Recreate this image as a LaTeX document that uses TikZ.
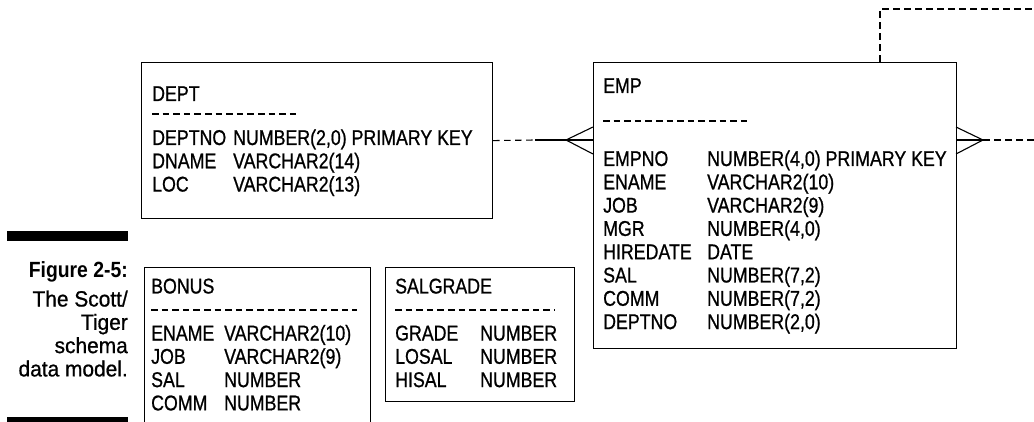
\documentclass[tikz,border=0pt]{standalone}
\usepackage{fontspec}
\setmainfont{Liberation Sans}[FakeStretch=0.83, FakeBold=0.8]
\newfontfamily\capfont{Liberation Sans}[FakeStretch=0.95, FakeBold=0.8]
\newfontfamily\capbf{Liberation Sans}[FakeStretch=0.88]
\usepackage{array}
\begin{document}
\begin{tikzpicture}[x=1pt,y=-1pt,
  tbl/.style={draw, line width=1.2pt, inner sep=0pt, anchor=north west},
  txt/.style={inner sep=0pt, anchor=base west, font=\fontsize{21.4}{23.3}\selectfont},
  captxt/.style={inner sep=0pt, anchor=base east, font=\capfont\fontsize{22}{23.3}\selectfont},
  sepline/.style={line width=1.8pt, dash pattern=on 6.6pt off 4pt},
  rel/.style={line width=1.1pt, dash pattern=on 6.5pt off 4.5pt},
  foot/.style={line width=1.1pt}]
\useasboundingbox (0,0) rectangle (1034,422);
\clip (0,0) rectangle (1034,422);

% caption
\fill (7,231) rectangle (128,241);
\fill (7,417) rectangle (128,422);
\node[captxt] (caption) at (128,278) {\begin{tabular}[t]{@{}r@{}}{\capbf\bfseries Figure 2-5:}\\[5.2pt]The Scott/\\Tiger\\schema\\data model.\end{tabular}};

% DEPT
\node[tbl, minimum width=351pt, minimum height=156pt] (dept) at (141,62) {};
\node[txt] (depttitle) at (152,101) {DEPT};
\draw[sepline] (152,114) -- (300,114);
\node[txt] (deptrows) at (152,145) {\begin{tabular}[t]{@{}p{81pt}@{}l@{}}DEPTNO & NUMBER(2,0) PRIMARY KEY\\DNAME & VARCHAR2(14)\\LOC & VARCHAR2(13)\end{tabular}};

% EMP
\node[tbl, minimum width=363pt, minimum height=286pt] (emp) at (593,62) {};
\node[txt] (emptitle) at (603,93) {EMP};
\draw[sepline] (603,121) -- (747,121);
\node[txt] (emprows) at (603,166) {\begin{tabular}[t]{@{}p{104pt}@{}l@{}}EMPNO & NUMBER(4,0) PRIMARY KEY\\ENAME & VARCHAR2(10)\\JOB & VARCHAR2(9)\\MGR & NUMBER(4,0)\\HIREDATE & DATE\\SAL & NUMBER(7,2)\\COMM & NUMBER(7,2)\\DEPTNO & NUMBER(2,0)\end{tabular}};

% BONUS
\node[tbl, minimum width=226pt, minimum height=180pt] (bonus) at (143.5,267) {};
\node[txt] (bonustitle) at (151,293.5) {BONUS};
\draw[sepline] (151,310) -- (357,310);
\node[txt] (bonusrows) at (151,340.5) {\begin{tabular}[t]{@{}p{73pt}@{}l@{}}ENAME & VARCHAR2(10)\\JOB & VARCHAR2(9)\\SAL & NUMBER\\COMM & NUMBER\end{tabular}};

% SALGRADE
\node[tbl, minimum width=189pt, minimum height=134pt] (salgrade) at (385,267) {};
\node[txt] (saltitle) at (395,293.5) {SALGRADE};
\draw[sepline] (395,310) -- (555,310);
\node[txt] (salrows) at (395,340.5) {\begin{tabular}[t]{@{}p{85pt}@{}l@{}}GRADE & NUMBER\\LOSAL & NUMBER\\HISAL & NUMBER\end{tabular}};

% DEPT -- EMP relationship
\coordinate (j1) at (535,140);
\coordinate (cf1) at (566,140);
\coordinate (cf1a) at (593,127);
\coordinate (cf1b) at (593,154);
\draw[rel] (dept.east) -- (j1);
\draw[foot] (j1) -- (emp.west |- j1);
\draw[foot] (cf1a) -- (cf1) -- (cf1b);

% EMP self relationship
\coordinate (cf2) at (983,140);
\coordinate (cf2a) at (956,127);
\coordinate (cf2b) at (956,154);
\coordinate (r1) at (1034,140);
\coordinate (t1) at (880,9);
\coordinate (t2) at (1034,9);
\draw[foot] (cf2a) -- (cf2) -- (cf2b);
\draw[foot] (emp.east |- cf2) -- (cf2);
\draw[rel] (cf2) -- (r1);
\draw[rel] (emp.north -| t1) -- (t1) -- (t2);
\end{tikzpicture}
\end{document}
